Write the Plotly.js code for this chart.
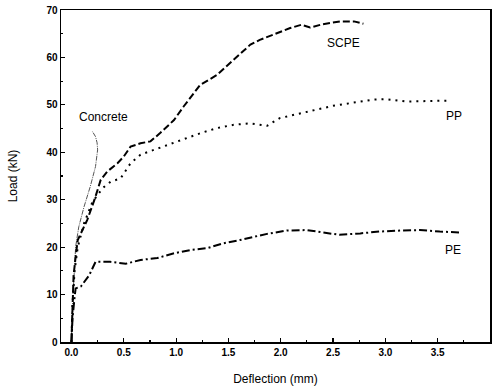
<!DOCTYPE html>
<html>
<head>
<meta charset="utf-8">
<script src="https://cdn.plot.ly/plotly-3.0.1.min.js"></script>
<style>html,body{margin:0;padding:0;background:#fff;}#chart{width:496px;height:392px;}</style>
</head>
<body>
<div id="chart"></div>
<script>
var scpeX = [0.0, 0.01, 0.02, 0.04, 0.06, 0.15, 0.22, 0.28, 0.34, 0.44, 0.5, 0.565, 0.66, 0.755, 0.85, 0.98, 1.07, 1.23, 1.39, 1.55, 1.71, 1.8, 2.09, 2.2, 2.28, 2.4, 2.57, 2.7, 2.79];
var scpeY = [0.0, 8.0, 14.0, 18.0, 21.5, 25.7, 30.0, 34.2, 35.9, 37.7, 39.1, 41.2, 41.9, 42.3, 44.1, 46.8, 49.6, 54.2, 56.3, 59.5, 62.7, 63.7, 66.2, 66.9, 66.3, 67.0, 67.6, 67.6, 67.1];

var ppX = [0.0, 0.01, 0.03, 0.06, 0.12, 0.2, 0.3, 0.375, 0.47, 0.565, 0.66, 0.785, 0.91, 1.04, 1.23, 1.39, 1.55, 1.71, 1.87, 1.99, 2.25, 2.5, 2.88, 3.01, 3.2, 3.4, 3.6];
var ppY = [0.0, 8.0, 15.0, 20.0, 25.0, 29.5, 32.5, 33.8, 34.5, 37.7, 39.5, 40.5, 41.6, 42.6, 44.0, 45.1, 45.8, 46.1, 45.6, 47.2, 48.6, 49.8, 51.1, 51.2, 50.7, 50.8, 50.9];

var peX = [0.0, 0.01, 0.03, 0.04, 0.09, 0.17, 0.23, 0.28, 0.37, 0.52, 0.66, 0.82, 0.98, 1.14, 1.3, 1.45, 1.61, 1.87, 2.06, 2.25, 2.44, 2.56, 2.76, 2.95, 3.14, 3.33, 3.52, 3.71];
var peY = [0.0, 5.0, 9.5, 11.3, 11.7, 14.1, 16.9, 16.9, 16.9, 16.5, 17.3, 17.7, 18.7, 19.4, 19.8, 20.8, 21.5, 22.8, 23.5, 23.6, 22.9, 22.6, 22.9, 23.3, 23.5, 23.6, 23.3, 23.1];

var concX = [0.0, 0.01, 0.03, 0.04, 0.07, 0.12, 0.18, 0.23, 0.25, 0.245, 0.23, 0.2];
var concY = [0.0, 8.0, 16.0, 20.1, 24.3, 28.5, 32.8, 37.0, 40.5, 42.0, 43.3, 44.4];

var labels = ['SCPE', 'PP', 'PE', 'Concrete'];
var labelX = [2.6, 3.66, 3.65, 0.31];
var labelY = [63.1, 47.6, 19.4, 47.4];

var traces = [
  {x: concX, y: concY, mode: 'lines', line: {color: '#555', width: 1, dash: '5px,1px,1px,1px'}},
  {x: scpeX, y: scpeY, mode: 'lines', line: {color: '#000', width: 2, dash: '7px,3px'}},
  {x: ppX, y: ppY, mode: 'lines', line: {color: '#000', width: 2, dash: '2px,5px'}},
  {x: peX, y: peY, mode: 'lines', line: {color: '#000', width: 2, dash: '8px,3px,2px,3px'}}
];

var annotations = labels.map(function(t, i) {
  return {x: labelX[i], y: labelY[i], text: t, showarrow: false, xref: 'x', yref: 'y',
          font: {family: 'Liberation Sans, Arial, sans-serif', size: 12, color: '#000'}};
});

var layout = {
  width: 496, height: 392,
  margin: {l: 61, r: 6, t: 10, b: 50},
  paper_bgcolor: '#fff', plot_bgcolor: '#fff',
  showlegend: false,
  font: {family: 'Liberation Sans, Arial, sans-serif', color: '#000'},
  xaxis: {
    range: [-0.1, 4.0], tickvals: [0, 0.5, 1, 1.5, 2, 2.5, 3, 3.5, 4],
    ticktext: ['0.0', '0.5', '1.0', '1.5', '2.0', '2.5', '3.0', '3.5', '4.0'],
    ticks: 'inside', ticklen: 4, tickwidth: 1.2, tickcolor: '#000',
    minor: {dtick: 0.25, tick0: 0, ticks: 'inside', ticklen: 2, tickcolor: '#000'},
    showgrid: false, zeroline: false, showline: true, linecolor: '#000', linewidth: 1.5, mirror: true,
    tickfont: {size: 10, family: 'Liberation Sans, Arial, sans-serif', weight: 'bold'},
    title: {text: 'Deflection (mm)', font: {size: 12}, standoff: 18}
  },
  yaxis: {
    range: [0, 70], dtick: 10, tick0: 0,
    ticks: 'inside', ticklen: 4, tickwidth: 1.2, tickcolor: '#000',
    minor: {dtick: 5, tick0: 0, ticks: 'inside', ticklen: 2, tickcolor: '#000'},
    showgrid: false, zeroline: false, showline: true, linecolor: '#000', linewidth: 1.5, mirror: true,
    tickfont: {size: 10, family: 'Liberation Sans, Arial, sans-serif', weight: 'bold'},
    title: {text: 'Load (kN)', font: {size: 12}, standoff: 26}
  },
  annotations: annotations
};

Plotly.newPlot('chart', traces, layout, {staticPlot: true, displayModeBar: false});
</script>
</body>
</html>
